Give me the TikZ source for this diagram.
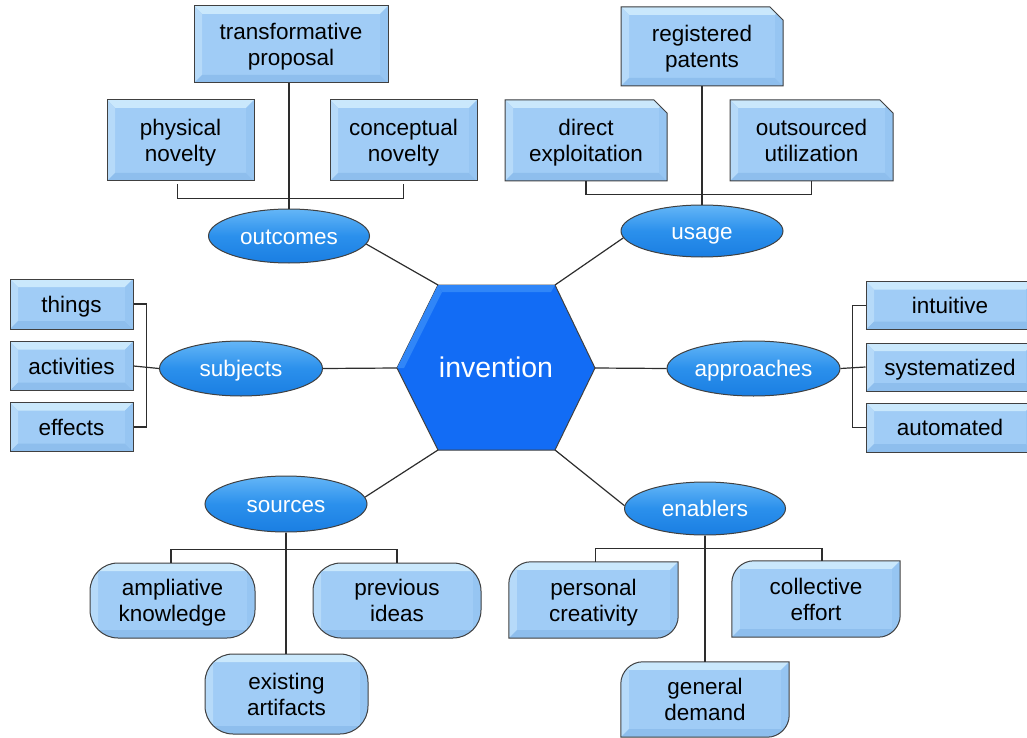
\documentclass[tikz,border=0pt]{standalone}
\usepackage{fontspec}
\setmainfont{Liberation Sans}
\usetikzlibrary{shapes.misc,shapes.geometric,backgrounds,calc}

\definecolor{boxface}{RGB}{160,204,246}
\definecolor{bvtop}{RGB}{202,232,252}
\definecolor{bvleft}{RGB}{182,218,249}
\definecolor{bvbottom}{RGB}{142,190,237}
\definecolor{bvright}{RGB}{150,197,242}
\definecolor{edgegray}{RGB}{64,64,64}
\definecolor{linkgray}{RGB}{45,45,45}
\definecolor{ovaltop}{RGB}{100,182,247}
\definecolor{ovalmid}{RGB}{43,144,236}
\definecolor{ovalbot}{RGB}{26,126,226}
\definecolor{hexface}{RGB}{18,108,245}
\definecolor{hexlight}{RGB}{48,134,248}

% four bevel facets inside the box whose anchors are named #1
\newcommand\bevelfill[1]{%
  \fill[sharp corners,bvtop] (#1.north west) -- (#1.north east) -- ([shift={(-8pt,-8pt)}]#1.north east) -- ([shift={(8pt,-8pt)}]#1.north west) -- cycle;
  \fill[sharp corners,bvleft] (#1.north west) -- ([shift={(8pt,-8pt)}]#1.north west) -- ([shift={(8pt,8pt)}]#1.south west) -- (#1.south west) -- cycle;
  \fill[sharp corners,bvbottom] (#1.south west) -- ([shift={(8pt,8pt)}]#1.south west) -- ([shift={(-8pt,8pt)}]#1.south east) -- (#1.south east) -- cycle;
  \fill[sharp corners,bvright] (#1.north east) -- ([shift={(-8pt,-8pt)}]#1.north east) -- ([shift={(-8pt,8pt)}]#1.south east) -- (#1.south east) -- cycle;
}
% outline with rounded top-left and bottom-right corners
\newcommand\hrpath[1]{%
  ([yshift=-22pt]#1.north west) .. controls ([yshift=-10pt]#1.north west) and ([xshift=10pt]#1.north west) .. ([xshift=22pt]#1.north west)
  -- (#1.north east) -- ([yshift=22pt]#1.south east)
  .. controls ([yshift=10pt]#1.south east) and ([xshift=-10pt]#1.south east) .. ([xshift=-22pt]#1.south east)
  -- (#1.south west) -- cycle}

\tikzset{
  txt/.style={font=\fontsize{22.5}{26}\selectfont, align=center, text=black, inner sep=0pt, text depth=0pt},
  bevel/.style={path picture={\bevelfill{path picture bounding box}}},
  rectbox/.style={txt, rectangle, draw=edgegray, line width=1pt, fill=boxface, bevel},
  snipbox/.style={txt, chamfered rectangle, chamfered rectangle corners=north east,
    chamfered rectangle xsep=6pt, chamfered rectangle ysep=7pt,
    draw=edgegray, line width=1pt, fill=boxface, bevel},
  roundbox/.style={txt, rectangle, rounded corners=28pt, draw=edgegray, line width=1pt, fill=boxface, bevel},
  halfbox/.style={txt, rectangle},
  oval/.style={ellipse, draw=edgegray, line width=1pt, top color=ovaltop, bottom color=ovalbot,
    middle color=ovalmid, text=white, font=\fontsize{22.5}{26}\selectfont, inner sep=0pt,
    text height=16pt, text depth=0pt},
  link/.style={draw=linkgray, line width=1.2pt},
}

\begin{document}
\begin{tikzpicture}[x=1pt, y=-1pt]
\useasboundingbox (0,0) rectangle (1027,738);
\clip (0,0) rectangle (1027,738);

% central hexagon
\coordinate (h1) at (438,285);
\coordinate (h2) at (555,285);
\coordinate (h3) at (595,368);
\coordinate (h4) at (555,450);
\coordinate (h5) at (438,450);
\coordinate (h6) at (397,368);
\filldraw[draw=edgegray, line width=1pt, fill=hexface] (h1) -- (h2) -- (h3) -- (h4) -- (h5) -- (h6) -- cycle;
\fill[hexlight] (h1) -- (h2) -- (551,292) -- (442,292) -- cycle;
\fill[hexlight] (h1) -- (442,292) -- (404,368) -- (h6) -- cycle;
\node[text=white, font=\fontsize{28.5}{30}\selectfont, inner sep=0pt] (inv) at (496,367.5) {invention};

% outcomes
\node[rectbox, minimum width=194pt, minimum height=77pt] (tp) at (291,44.5) {transformative\\proposal};
\node[rectbox, minimum width=147pt, minimum height=81pt] (pn) at (180.5,140.5) {physical\\novelty};
\node[rectbox, minimum width=147pt, minimum height=81pt] (cn) at (403.5,140.5) {conceptual\\novelty};
\node[oval, minimum width=161pt, minimum height=54pt] (outc) at (289,236) {outcomes};

% usage
\node[snipbox, minimum width=162pt, minimum height=79pt] (rp) at (702,46.5) {registered\\patents};
\node[snipbox, minimum width=162pt, minimum height=81pt] (de) at (586,140.5) {direct\\exploitation};
\node[snipbox, minimum width=163pt, minimum height=81pt] (ou) at (811.5,140.5) {outsourced\\utilization};
\node[oval, minimum width=162pt, minimum height=52pt] (usage) at (702,231) {usage};

% subjects
\node[rectbox, minimum width=123pt, minimum height=50pt] (things) at (71.5,304) {things};
\node[rectbox, minimum width=123pt, minimum height=49pt] (activities) at (71.5,366) {activities};
\node[rectbox, minimum width=123pt, minimum height=49pt] (effects) at (71.5,427) {effects};
\node[oval, minimum width=163pt, minimum height=55pt] (subj) at (241,368.5) {subjects};

% approaches
\node[rectbox, minimum width=168pt, minimum height=48pt] (intuitive) at (950,305.5) {intuitive};
\node[rectbox, minimum width=168pt, minimum height=48pt] (systematized) at (950,367) {systematized};
\node[rectbox, minimum width=168pt, minimum height=49pt] (automated) at (950,427.5) {automated};
\node[oval, minimum width=173pt, minimum height=55pt] (appr) at (753.5,368.5) {approaches};

% sources
\node[oval, minimum width=162pt, minimum height=56pt] (sour) at (286,504) {sources};
\node[roundbox, minimum width=165pt, minimum height=75pt] (ak) at (172.5,600.5) {ampliative\\knowledge};
\node[roundbox, minimum width=168pt, minimum height=75pt] (pi) at (397,600.5) {previous\\ideas};
\node[roundbox, minimum width=163pt, minimum height=80pt] (ea) at (286.5,694) {existing\\artifacts};

% enablers
\node[oval, minimum width=161pt, minimum height=53pt] (enab) at (705,508.5) {enablers};
\node[halfbox, minimum width=169pt, minimum height=76pt] (pc) at (593.5,600) {personal\\creativity};
\node[halfbox, minimum width=168pt, minimum height=76pt] (ce) at (816,599) {collective\\effort};
\node[halfbox, minimum width=168pt, minimum height=75pt] (gd) at (705,699.5) {general\\demand};
\begin{pgfonlayer}{background}
  \foreach \n in {pc,ce,gd}{
    \begin{scope}
      \path[clip] \hrpath{\n};
      \fill[boxface] (\n.north west) rectangle (\n.south east);
      \bevelfill{\n}
    \end{scope}
    \draw[edgegray, line width=1pt] \hrpath{\n};
  }
\end{pgfonlayer}

% spokes from the hexagon
\draw[link] (h1) -- (outc.-6);
\draw[link] (h2) -- (usage.185);
\draw[link] (subj.east) -- (h6);
\draw[link] (h3) -- (appr.west);
\draw[link] (h5) -- (sour.5);
\draw[link] (h4) -- (enab.178);

% outcomes branch
\draw[link] (outc.north) -- (outc.north |- tp.south);
\draw[link] ([xshift=-3pt,yshift=-3pt]pn.south) -- ++(0,14) -| ([yshift=-3pt]cn.south);

% usage branch
\draw[link] (usage.north) -- (usage.north |- rp.south);
\draw[link] (de.south) -- ++(0,13) -| (ou.south);

% subjects branch
\draw[link] (things.east) -- ++(13,0) |- (effects.east);
\draw[link] (activities.east) -- (subj.west);

% approaches branch
\draw[link] (intuitive.west) -- ++(-13,0) |- (automated.west);
\draw[link] (appr.east) -- (systematized.west);

% sources branch
\draw[link] (sour.south) -- (sour.south |- ea.north);
\draw[link] ([xshift=-1.5pt]ak.north) -- ++(0,-13) -| (pi.north);

% enablers branch
\draw[link] (enab.south) -- (enab.south |- gd.north);
\draw[link] ([xshift=2pt]pc.north) -- ++(0,-13) -| ([xshift=6pt]ce.north);
\end{tikzpicture}
\end{document}
